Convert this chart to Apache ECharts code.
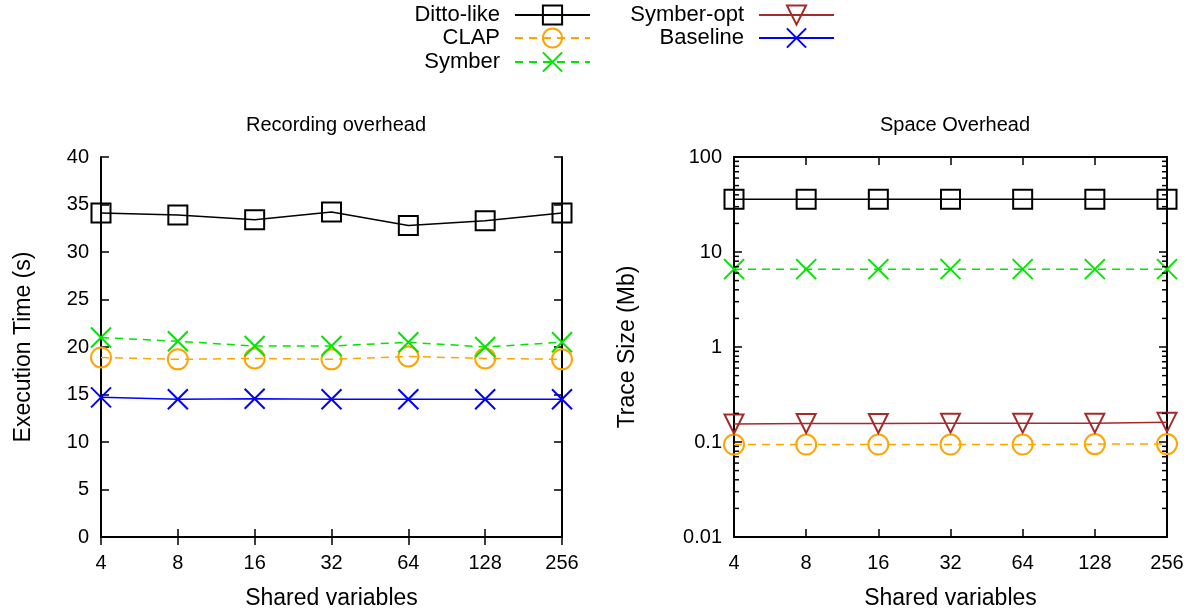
<!DOCTYPE html>
<html>
<head>
<meta charset="utf-8">
<script src="https://cdn.jsdelivr.net/npm/echarts@6/dist/echarts.min.js"></script>
<style>
  html, body { margin: 0; padding: 0; background: #fff; }
  #main { width: 1199px; height: 612px; }
</style>
</head>
<body>
<div id="main"></div>
<script>
// shared x categories
var categories = ['4', '8', '16', '32', '64', '128', '256'];

// left panel: recording overhead, execution time (s)
var timeDitto    = [34.1, 33.9, 33.4, 34.2, 32.8, 33.3, 34.1];
var timeClap     = [18.9, 18.7, 18.8, 18.7, 19.0, 18.8, 18.7];
var timeSymber   = [21.0, 20.6, 20.1, 20.1, 20.5, 20.0, 20.5];
var timeBaseline = [14.7, 14.5, 14.55, 14.5, 14.5, 14.5, 14.5];

// right panel: space overhead, trace size (Mb)
var sizeDitto     = [36, 36, 36, 36, 36, 36, 36];
var sizeClap      = [0.094, 0.094, 0.094, 0.094, 0.094, 0.095, 0.095];
var sizeSymber    = [6.6, 6.6, 6.6, 6.6, 6.6, 6.6, 6.6];
var sizeSymberOpt = [0.155, 0.157, 0.157, 0.158, 0.158, 0.158, 0.161];

// log axis minor tick values (gnuplot draws 2..9 in each decade)
var minorTickValues = [
  0.02, 0.03, 0.04, 0.05, 0.06, 0.07, 0.08, 0.09,
  0.2, 0.3, 0.4, 0.5, 0.6, 0.7, 0.8, 0.9,
  2, 3, 4, 5, 6, 7, 8, 9,
  20, 30, 40, 50, 60, 70, 80, 90
];

var FONT = 'Liberation Sans';
var chart = echarts.init(document.getElementById('main'));

var styles = {
  'Ditto-like':  { color: '#000000', symbol: 'rect', size: 19, dash: 'solid' },
  'CLAP':        { color: '#ffa500', symbol: 'circle', size: 20, dash: [8, 6] },
  'Symber':      { color: '#00e600', symbol: 'path://M0,0L10,10M10,0L0,10', size: 20, dash: [8, 6] },
  'Baseline':    { color: '#0000ff', symbol: 'path://M0,0L10,10M10,0L0,10', size: 20, dash: 'solid' },
  'Symber-opt':  { color: '#a52a2a', symbol: 'path://M0,0L10,0L5,8.66Z', size: 19, dash: 'solid' }
};

function mkSeries(name, data, xIdx, yIdx) {
  var s = styles[name];
  return {
    name: name,
    type: 'line',
    xAxisIndex: xIdx,
    yAxisIndex: yIdx,
    data: data,
    symbol: s.symbol,
    symbolSize: s.size,
    showAllSymbol: true,
    animation: false,
    lineStyle: { color: s.color, width: 1.5, type: s.dash },
    itemStyle: { color: 'transparent', borderColor: s.color, borderWidth: 2 },
    emphasis: { disabled: true }
  };
}

var axisLine = { show: true, lineStyle: { color: '#000', width: 2 } };
var tick = { show: true, inside: true, length: 8, lineStyle: { color: '#000', width: 1.5 } };
var labelStyle = { color: '#000', fontFamily: FONT, fontSize: 20 };
var nameStyle = { color: '#000', fontFamily: FONT, fontSize: 23 };

function xAxes(gridIndex) {
  return [
    {
      type: 'category', gridIndex: gridIndex, data: categories, boundaryGap: false,
      position: 'bottom', axisLine: axisLine, axisTick: tick,
      axisLabel: Object.assign({ margin: 16 }, labelStyle),
      splitLine: { show: false },
      name: 'Shared variables', nameLocation: 'middle', nameGap: 50, nameTextStyle: nameStyle
    },
    {
      type: 'category', gridIndex: gridIndex, data: categories, boundaryGap: false,
      position: 'top', axisLine: axisLine, axisTick: tick,
      axisLabel: { show: false }, splitLine: { show: false }
    }
  ];
}

var leftY = {
  type: 'value', gridIndex: 0, min: 0, max: 40, interval: 5,
  axisLine: axisLine, axisTick: tick, splitLine: { show: false }
};
var rightY = {
  type: 'log', gridIndex: 1, min: 0.01, max: 100, logBase: 10,
  axisLine: axisLine, axisTick: tick, splitLine: { show: false }
};

// minor ticks on both sides of the log axis, placed through the axis scale
var minorData = [];
minorTickValues.forEach(function (v) {
  minorData.push([0, v]);
  minorData.push([categories.length - 1, v]);
});

var option = {
  backgroundColor: '#fff',
  animation: false,
  title: [
    { text: 'Recording overhead', left: 331, top: 110, textAlign: 'center',
      textStyle: { color: '#000', fontFamily: FONT, fontSize: 20, fontWeight: 'normal' } },
    { text: 'Space Overhead', left: 950, top: 110, textAlign: 'center',
      textStyle: { color: '#000', fontFamily: FONT, fontSize: 20, fontWeight: 'normal' } }
  ],
  legend: [
    ['Ditto-like', 608, 4], ['CLAP', 608, 27], ['Symber', 608, 51],
    ['Symber-opt', 364, 4], ['Baseline', 364, 27]
  ].map(function (l) {
    return {
      data: [l[0]], right: l[1], top: l[2], align: 'right',
      itemWidth: 75, itemHeight: 24, itemGap: 0, padding: 0,
      textStyle: { color: '#000', fontFamily: FONT, fontSize: 22, padding: [0, 10, 0, 0] },
      selectedMode: false
    };
  }),
  grid: [
    { left: 101, right: 637, top: 157, bottom: 75, outerBoundsMode: 'none' },
    { left: 734, right: 32, top: 157, bottom: 75, outerBoundsMode: 'none' }
  ],
  xAxis: xAxes(0).concat(xAxes(1)),
  yAxis: [
    Object.assign({}, leftY, {
      position: 'left',
      axisLabel: Object.assign({ margin: 12 }, labelStyle),
      name: 'Execution Time (s)', nameLocation: 'middle', nameGap: 66, nameTextStyle: nameStyle
    }),
    Object.assign({}, leftY, { position: 'right', axisLabel: { show: false } }),
    Object.assign({}, rightY, {
      position: 'left',
      axisLabel: Object.assign({ margin: 12 }, labelStyle),
      name: 'Trace Size (Mb)', nameLocation: 'middle', nameGap: 95, nameTextStyle: nameStyle
    }),
    Object.assign({}, rightY, { position: 'right', axisLabel: { show: false } })
  ],
  series: [
    mkSeries('Ditto-like', timeDitto, 0, 0),
    mkSeries('CLAP', timeClap, 0, 0),
    mkSeries('Symber', timeSymber, 0, 0),
    mkSeries('Baseline', timeBaseline, 0, 0),
    mkSeries('Ditto-like', sizeDitto, 2, 2),
    mkSeries('CLAP', sizeClap, 2, 2),
    mkSeries('Symber', sizeSymber, 2, 2),
    mkSeries('Symber-opt', sizeSymberOpt, 2, 2),
    {
      name: 'minor', type: 'custom', xAxisIndex: 2, yAxisIndex: 2,
      data: minorData, clip: false, silent: true, z: 5,
      renderItem: function (params, api) {
        var p = api.coord([api.value(0), api.value(1)]);
        var dir = api.value(0) === 0 ? 1 : -1;
        return {
          type: 'line',
          shape: { x1: p[0], y1: p[1], x2: p[0] + dir * 5, y2: p[1] },
          style: { stroke: '#000', lineWidth: 1.5 }
        };
      }
    }
  ]
};
option.yAxis[1].gridIndex = 0;
option.yAxis[3].gridIndex = 1;

chart.setOption(option);
</script>
</body>
</html>
